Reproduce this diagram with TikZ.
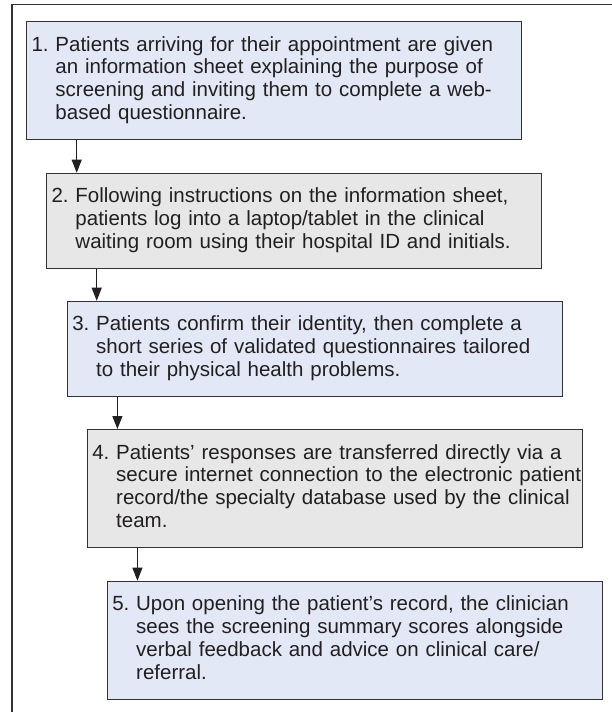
\documentclass[tikz,border=0pt]{standalone}
\usepackage{fontspec}
\setmainfont{Liberation Sans}
\usetikzlibrary{arrows.meta,calc}
\definecolor{bluefill}{RGB}{226,232,245}
\definecolor{grayfill}{RGB}{231,231,231}
\definecolor{edgecol}{RGB}{50,50,50}
\definecolor{ink}{RGB}{35,31,32}
\begin{document}
\begin{tikzpicture}[x=1pt,y=-1pt,
  stepbox/.style={draw=edgecol, line width=1.1pt, anchor=north west, inner xsep=5pt, inner ysep=13.5pt,
    text width=485pt, align=left, font=\fontsize{20.5}{22.8}\selectfont, text=ink},
  bluebox/.style={stepbox, fill=bluefill},
  graybox/.style={stepbox, fill=grayfill},
  arr/.style={draw=ink, line width=1.1pt, -{Triangle[length=13pt,width=10pt]}}]
\useasboundingbox (0,0) rectangle (612,712);
\draw[line width=1.3pt, draw=edgecol] (12,712) -- (12,4.5) -- (612,4.5);

\node[bluebox] (b1) at (26,21) {\begin{tabular}{@{}l@{\ }l@{}}
1. & Patients arriving for their appointment are given\\
 & an information sheet explaining the purpose of\\
 & screening and inviting them to complete a web-\\
 & based questionnaire.\end{tabular}};

\node[graybox] (b2) at (46,172.7) {\begin{tabular}{@{}l@{\ }l@{}}
2. & Following instructions on the information sheet,\\
 & patients log into a laptop/tablet in the clinical\\
 & waiting room using their hospital ID and initials.\end{tabular}};

\node[bluebox] (b3) at (66.7,300.7) {\begin{tabular}{@{}l@{\ }l@{}}
3. & Patients confirm their identity, then complete a\\
 & short series of validated questionnaires tailored\\
 & to their physical health problems.\end{tabular}};

\node[graybox] (b4) at (86.7,429) {\begin{tabular}{@{}l@{\ }l@{}}
4. & Patients’ responses are transferred directly via a\\
 & secure internet connection to the electronic patient\\
 & record/the specialty database used by the clinical\\
 & team.\end{tabular}};

\node[bluebox] (b5) at (106.7,580.7) {\begin{tabular}{@{}l@{\ }l@{}}
5. & Upon opening the patient’s record, the clinician\\
 & sees the screening summary scores alongside\\
 & verbal feedback and advice on clinical care/\\
 & referral.\end{tabular}};

\coordinate (s1) at ($(b1.south west)+(50.7,0)$);
\coordinate (s2) at ($(b2.south west)+(50.7,0)$);
\coordinate (s3) at ($(b3.south west)+(50.7,0)$);
\coordinate (s4) at ($(b4.south west)+(50.7,0)$);
\draw[arr] (s1) -- (s1 |- b2.north);
\draw[arr] (s2) -- (s2 |- b3.north);
\draw[arr] (s3) -- (s3 |- b4.north);
\draw[arr] (s4) -- (s4 |- b5.north);
\end{tikzpicture}
\end{document}
